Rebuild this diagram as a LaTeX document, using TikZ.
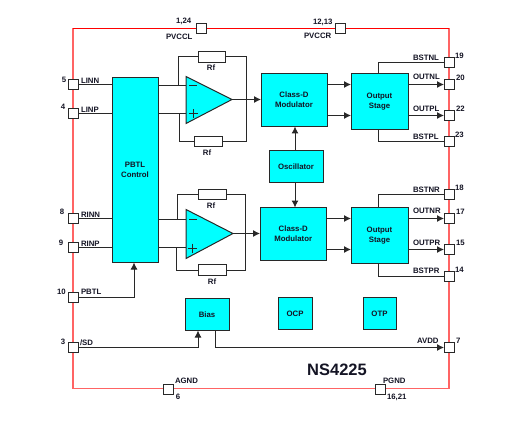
\documentclass[tikz,border=0pt]{standalone}
\usepackage{fontspec}
\setmainfont{Liberation Sans}
\usetikzlibrary{arrows.meta}
\definecolor{framered}{RGB}{255,100,100}
\definecolor{toprd}{RGB}{255,0,0}
\definecolor{wire}{RGB}{40,40,40}
\definecolor{txt}{RGB}{20,20,36}
\definecolor{blockfill}{RGB}{0,255,255}
\tikzset{
  x=1pt,y=-1pt,
  every node/.style={inner sep=0pt,outer sep=0pt,text=txt,font=\bfseries\fontsize{7.8}{10}\selectfont},
  blockbox/.style={draw=wire,line width=1pt,fill=blockfill,align=center},
  pinbox/.style={draw=wire,line width=1pt,fill=white,minimum width=10pt,minimum height=10pt},
  resbox/.style={draw=wire,line width=1pt,fill=white},
  wireline/.style={draw=wire,line width=1pt},
  arrowline/.style={wireline,-{Latex[length=7pt,width=7pt]}},
  lbl/.style={anchor=west},
  frameline/.style={draw=framered,line width=1.3pt},
}
\begin{document}
\begin{tikzpicture}
\useasboundingbox (0,-0.5) rectangle (513,421.5);
% frame corners
\coordinate (ftl) at (73,28);
\coordinate (ftr) at (449,28);
\coordinate (fbr) at (449,388);
\coordinate (fbl) at (73,388);
\draw[frameline] (fbl) -- (ftl);
\draw[frameline] (ftr) -- (fbr) -- (fbl);
\draw[draw=toprd,line width=1.1pt] (ftl) -- (ftr);
% blocks
\node[blockbox,minimum width=46pt,minimum height=185pt] (pbtl) at (135,169.5) {PBTL\\Control};
\node[blockbox,minimum width=66pt,minimum height=53pt] (cdt) at (294,99.5) {Class-D\\Modulator};
\node[blockbox,minimum width=57pt,minimum height=56pt] (ost) at (379.5,101) {Output\\Stage};
\node[blockbox,minimum width=54pt,minimum height=32pt] (osc) at (296,166) {Oscillator};
\node[blockbox,minimum width=66.5pt,minimum height=53pt] (cdb) at (293.25,233.5) {Class-D\\Modulator};
\node[blockbox,minimum width=57pt,minimum height=56pt] (osb) at (379.5,235) {Output\\Stage};
\node[blockbox,minimum width=44pt,minimum height=32pt] (bias) at (207,314) {Bias};
\node[blockbox,minimum width=34pt,minimum height=32pt] (ocp) at (295,313) {OCP};
\node[blockbox,minimum width=33pt,minimum height=32pt] (otp) at (379.5,313) {OTP};
% op-amps
\coordinate (at1) at (186,76);
\coordinate (ab1) at (186,123);
\coordinate (ao1) at (232,99);
\coordinate (at2) at (186,209);
\coordinate (ab2) at (186,258);
\coordinate (ao2) at (233,233);
\coordinate (am1) at (186,85);
\coordinate (ap1) at (186,113);
\coordinate (am2) at (186,219);
\coordinate (ap2) at (186,247);
% resistors
\node[resbox,minimum width=27pt,minimum height=11pt] (r1) at (211.5,56.5) {};
\node[resbox,minimum width=28pt,minimum height=10pt] (r2) at (208,141) {};
\node[resbox,minimum width=28pt,minimum height=10.5pt] (r3) at (212,194) {};
\node[resbox,minimum width=28pt,minimum height=11pt] (r4) at (212,269.5) {};
% pins
\node[pinbox] (pvccl) at (201,28) {};
\node[pinbox] (pvccr) at (340,28) {};
\node[pinbox] (linn) at (73,84) {};
\node[pinbox] (linp) at (73,113) {};
\node[pinbox] (rinn) at (73,218) {};
\node[pinbox] (rinp) at (73,247) {};
\node[pinbox] (ppbtl) at (73,297) {};
\node[pinbox] (sd) at (73,347) {};
\node[pinbox] (agnd) at (168,388.5) {};
\node[pinbox] (pgnd) at (380,388.5) {};
\node[pinbox] (bstnl) at (449,62) {};
\node[pinbox] (outnl) at (449,84) {};
\node[pinbox] (outpl) at (449,115) {};
\node[pinbox] (bstpl) at (449,141) {};
\node[pinbox] (bstnr) at (449,194) {};
\node[pinbox] (outnr) at (449,218) {};
\node[pinbox] (outpr) at (449,249) {};
\node[pinbox] (bstpr) at (449,276) {};
\node[pinbox] (avdd) at (449,347) {};
% input wires
\draw[wireline] (linn) -- (linn -| pbtl.west);
\draw[wireline] (linp) -- (linp -| pbtl.west);
\draw[wireline] (rinn) -- (rinn -| pbtl.west);
\draw[wireline] (rinp) -- (rinp -| pbtl.west);
\draw[arrowline] (ppbtl) -| (pbtl.south -| 134,0);
\draw[wireline] (pbtl.east |- am1) -- (am1);
\draw[wireline] (pbtl.east |- ap1) -- (ap1);
\draw[wireline] (pbtl.east |- am2) -- (am2);
\draw[wireline] (pbtl.east |- ap2) -- (ap2);
% feedback
\draw[wireline] (178,85) |- (r1.west);
\draw[wireline] (r1.east) -| (246,99);
\draw[wireline] (179,113) |- (r2.west);
\draw[wireline] (r2.east) -| (246,99);
\draw[wireline] (177,219) |- (r3.west);
\draw[wireline] (r3.east) -| (245,233);
\draw[wireline] (176,247) |- (r4.west);
\draw[wireline] (r4.east) -| (245,233);
% op-amp bodies
\draw[blockbox] (at1) -- (ao1) -- (ab1) -- cycle;
\draw[blockbox] (at2) -- (ao2) -- (ab2) -- cycle;
\draw[wireline] (189,85) -- (197,85);
\draw[wireline] (193,109) -- (193,118) (188.5,113.5) -- (197.5,113.5);
\draw[wireline] (189,219) -- (197,219);
\draw[wireline] (192,243) -- (192,252) (187.5,247.5) -- (196.5,247.5);
% op-amp outputs
\draw[arrowline] (ao1) -- (ao1 -| cdt.west);
\draw[arrowline] (ao2) -- (ao2 -| cdb.west);
% oscillator
\draw[arrowline] (osc.north -| 295,0) -- (cdt.south -| 295,0);
\draw[arrowline] (osc.south -| 295,0) -- (cdb.north -| 295,0);
% modulators to output stages
\draw[arrowline] (cdt.east |- outnl) -- (ost.west |- outnl);
\draw[arrowline] (cdt.east |- outpl) -- (ost.west |- outpl);
\draw[arrowline] (cdb.east |- outnr) -- (osb.west |- outnr);
\draw[arrowline] (cdb.east |- outpr) -- (osb.west |- outpr);
% outputs
\draw[arrowline] (ost.east |- outnl) -- (outnl.west);
\draw[arrowline] (ost.east |- outpl) -- (outpl.west);
\draw[arrowline] (osb.east |- outnr) -- (outnr.west);
\draw[arrowline] (osb.east |- outpr) -- (outpr.west);
\draw[wireline] (ost.north -| 378,0) |- (bstnl.west);
\draw[wireline] (ost.south -| 378,0) |- (bstpl.west);
\draw[wireline] (osb.north -| 378,0) |- (bstnr.west);
\draw[wireline] (osb.south -| 378,0) |- (bstpr.west);
% bias
\draw[arrowline] (sd) -| (bias.south -| 198,0);
\draw[arrowline] (bias.south -| 215,0) |- (avdd.west);
% resistor labels
\node (lr1) at (211,67) {Rf};
\node (lr2) at (207,152) {Rf};
\node (lr3) at (211,205) {Rf};
\node (lr4) at (212,281) {Rf};
% pin labels
\node[lbl] (t1) at (176,21) {1,24};
\node[lbl] (t2) at (166,36) {PVCCL};
\node[lbl] (t3) at (313,22) {12,13};
\node[lbl] (t4) at (304,35) {PVCCR};
\node (t5) at (64,79) {5};
\node (t6) at (63,106) {4};
\node (t7) at (62,211) {8};
\node (t8) at (61,242) {9};
\node (t9) at (61.5,291) {10};
\node (t10) at (63,341) {3};
\node[lbl] (t11) at (81,80) {LINN};
\node[lbl] (t12) at (81,109) {LINP};
\node[lbl] (t13) at (81,214) {RINN};
\node[lbl] (t14) at (81,243) {RINP};
\node[lbl] (t15) at (81,291) {PBTL};
\node[lbl] (t16) at (80,342) {/SD};
\node[lbl] (t17) at (175,380) {AGND};
\node (t18) at (178,396) {6};
\node[lbl] (t19) at (383,380) {PGND};
\node[lbl] (t20) at (387,397) {16,21};
\node[lbl] (t21) at (413,57) {BSTNL};
\node[lbl] (t22) at (455,55) {19};
\node[lbl] (t23) at (413,76) {OUTNL};
\node[lbl] (t24) at (456,77) {20};
\node[lbl] (t25) at (413,108) {OUTPL};
\node[lbl] (t26) at (456,108) {22};
\node[lbl] (t27) at (413,136) {BSTPL};
\node[lbl] (t28) at (455,134) {23};
\node[lbl] (t29) at (413,189) {BSTNR};
\node[lbl] (t30) at (455,187) {18};
\node[lbl] (t31) at (413,210) {OUTNR};
\node[lbl] (t32) at (456,211) {17};
\node[lbl] (t33) at (413,242) {OUTPR};
\node[lbl] (t34) at (456,242) {15};
\node[lbl] (t35) at (413,270) {BSTPR};
\node[lbl] (t36) at (455,269) {14};
\node[lbl] (t37) at (417,340) {AVDD};
\node[lbl] (t38) at (456,340) {7};
\node[font=\bfseries\fontsize{16.5}{18}\selectfont] (title) at (337,369) {NS4225};
\end{tikzpicture}
\end{document}
